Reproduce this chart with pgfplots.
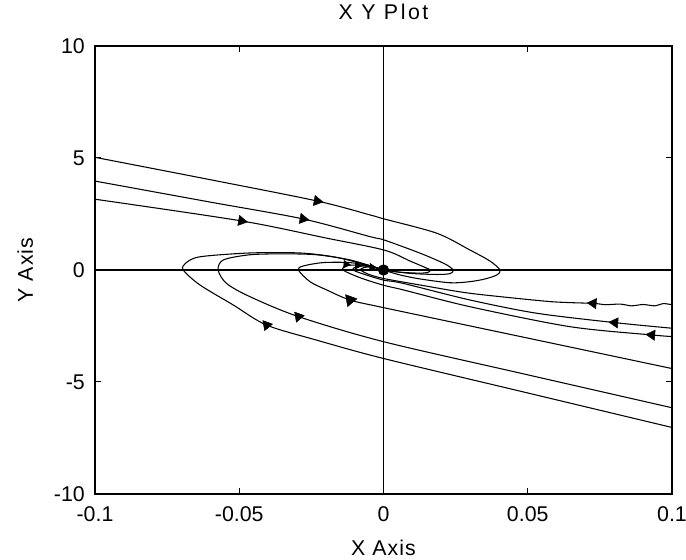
\documentclass[border=0pt]{standalone}
\usepackage{fontspec}
\setmainfont{Liberation Sans}
\usepackage{pgfplots}
\pgfplotsset{compat=1.18}
\newcommand{\lblfont}{\fontsize{16}{19}\selectfont}
\begin{document}
\begin{tikzpicture}
\begin{axis}[
  scale only axis, width=432.75pt, height=336pt,
  xmin=-0.1, xmax=0.1, ymin=-10, ymax=10,
  xtick={-0.1,-0.05,0,0.05,0.1},
  xticklabels={-0.1,-0.05,0,0.05,0.1},
  ytick={-10,-5,0,5,10},
  yticklabels={-10,-5,0,5,10},
  tick align=inside,
  major tick length=4.5pt,
  tick style={black, line width=0.75pt},
  axis line style={line width=0.8pt},
  every tick label/.append style={font=\lblfont},
  xticklabel style={anchor=base, yshift=-20.5pt, inner sep=0pt},
  yticklabel style={anchor=east, xshift=-7.5pt, inner sep=0pt},
  title={X Y Plot},
  title style={font=\lblfont\addfontfeature{LetterSpace=12}, at={(axis description cs:0.5,1.0413)}, anchor=base, inner sep=0pt},
  xlabel={X Axis},
  xlabel style={font=\lblfont\addfontfeature{LetterSpace=5}, at={(axis description cs:0.5,-0.1362)}, anchor=base, inner sep=0pt},
  ylabel={Y Axis},
  ylabel style={font=\lblfont\addfontfeature{LetterSpace=5}, at={(axis description cs:-0.1075,0.5)}, anchor=base, rotate=0, inner sep=0pt},
  clip=true,
]
% zero lines
\addplot[black, line width=0.8pt] coordinates {(-0.1,0) (0.1,0)};
\addplot[black, line width=0.8pt] coordinates {(0,-10) (0,10)};

% trajectories from upper left
\addplot[black, line width=0.8pt, smooth, tension=0.5] coordinates {
(-0.1,5.03) (-0.06,4.03) (-0.023,3.08) (-0.0047,2.46) (0.0002,2.28) (0.0185,1.64) (0.030,0.89) (0.0369,0.40) (0.0404,0.0) (0.0393,-0.22) (0.0352,-0.40) (0.030,-0.52) (0.0231,-0.57) (0.0127,-0.40) (0.0057,-0.22) (0,0)};
\addplot[black, line width=0.8pt, smooth, tension=0.5] coordinates {
(-0.1,3.97) (-0.06,3.03) (-0.0279,2.28) (-0.0047,1.49) (0.0002,1.34) (0.0127,0.75) (0.0213,0.27) (0.0241,0.0) (0.0231,-0.16) (0.0185,-0.2) (0.0092,-0.15) (0,0)};
\addplot[black, line width=0.8pt, smooth, tension=0.5] coordinates {
(-0.1,3.16) (-0.0492,2.19) (-0.02,1.43) (0.0002,0.89) (0.0092,0.40) (0.0154,0.06) (0.0163,0) (0.0155,-0.1) (0.0127,-0.14) (0.0057,-0.1) (0,0)};

% trajectories from lower right (large loops on the left)
\addplot[black, line width=0.8pt, smooth, tension=0.5] coordinates {
(0.1,-7.03) (0.05,-5.49) (0,-3.95) (-0.0232,-3.13) (-0.0405,-2.46) (-0.0521,-1.56) (-0.0636,-0.67) (-0.0694,0) (-0.0685,0.31) (-0.0636,0.59) (-0.0463,0.76) (-0.0289,0.76) (-0.0175,0.59) (-0.0081,0.31) (0,0)};
\addplot[black, line width=0.8pt, smooth, tension=0.5] coordinates {
(0.1,-6.15) (0.05,-4.68) (0,-3.2) (-0.0295,-2.08) (-0.0463,-1.19) (-0.0544,-0.6) (-0.0573,0) (-0.0555,0.45) (-0.0463,0.68) (-0.0348,0.72) (-0.0232,0.68) (-0.0116,0.45) (0,0)};
\addplot[black, line width=0.8pt, smooth, tension=0.5] coordinates {
(0.1,-4.4) (0.05,-3.04) (0,-1.68) (-0.0116,-1.34) (-0.0197,-0.89) (-0.0255,-0.52) (-0.0295,0) (-0.0278,0.18) (-0.0209,0.33) (-0.0116,0.33) (-0.0047,0.18) (0,0)};

% trajectories from the right (small overshoot)
\addplot[black, line width=0.8pt, smooth, tension=0.4] coordinates {
(0.1,-1.55) (0.097,-1.5) (0.094,-1.6) (0.09,-1.54) (0.086,-1.6) (0.082,-1.52) (0.077,-1.55) (0.0727,-1.49) (0.0577,-1.41) (0.030,-1.04) (0.0127,-0.67) (0,-0.38) (-0.005,-0.2) (-0.008,0) (-0.0065,0.12) (-0.003,0.12) (0,0)};
\addplot[black, line width=0.8pt, smooth, tension=0.5] coordinates {
(0.1,-2.6) (0.0802,-2.35) (0.0531,-1.93) (0.03,-1.34) (0.0069,-0.6) (0,-0.45) (-0.006,-0.22) (-0.0105,0) (-0.009,0.16) (-0.004,0.15) (0,0)};
\addplot[black, line width=0.8pt, smooth, tension=0.5] coordinates {
(0.1,-2.97) (0.093,-2.9) (0.0646,-2.53) (0.03,-1.64) (0.0069,-0.89) (0,-0.68) (-0.008,-0.35) (-0.014,0) (-0.0125,0.2) (-0.006,0.2) (0,0)};

% direction arrows
\addplot[only marks, mark=triangle*, mark size=4.4pt, mark options={rotate=-100, fill=black, draw=black}] coordinates {(-0.023,3.08) (-0.0279,2.28) (-0.0492,2.19)};
\addplot[only marks, mark=triangle*, mark size=4.4pt, mark options={rotate=160, fill=black, draw=black}] coordinates {(-0.0405,-2.46) (-0.0295,-2.08)};
\addplot[only marks, mark=triangle*, mark size=5.2pt, mark options={rotate=160, fill=black, draw=black}] coordinates {(-0.0116,-1.34)};
\addplot[only marks, mark=triangle*, mark size=4.4pt, mark options={rotate=85, fill=black, draw=black}] coordinates {(0.0727,-1.49) (0.0802,-2.35) (0.093,-2.9)};
\addplot[only marks, mark=triangle*, mark size=3.2pt, mark options={rotate=-95, fill=black, draw=black}] coordinates {(-0.009,0.2) (-0.004,0.12) (-0.013,0.25)};
\addplot[only marks, mark=*, mark size=4pt, mark options={fill=black, draw=black}] coordinates {(0,0)};

\coordinate (bl) at (rel axis cs:0,0);
\coordinate (tr) at (rel axis cs:1,1);
\end{axis}
\pgfresetboundingbox
\path[use as bounding box] ([shift={(-71.25pt,-49.5pt)}]bl) rectangle ([shift={(10.5pt,34.5pt)}]tr);
\end{tikzpicture}
\end{document}
